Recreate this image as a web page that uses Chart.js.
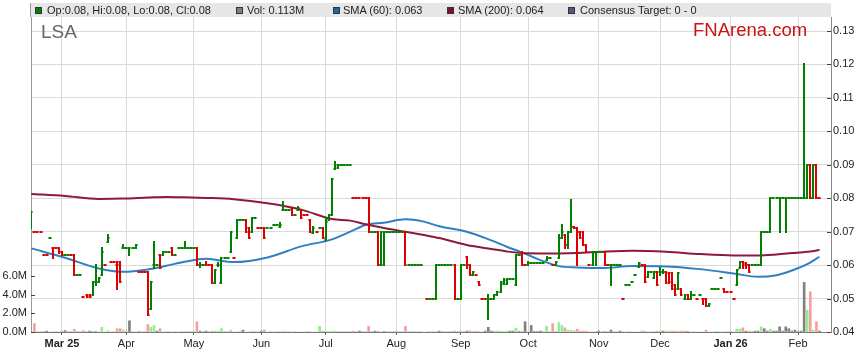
<!DOCTYPE html>
<html><head><meta charset="utf-8">
<script src="https://cdn.jsdelivr.net/npm/chart.js@4.4.0/dist/chart.umd.min.js"></script>
<style>
body{margin:0;background:#fff;}
#wrap{position:relative;width:859px;height:363px;overflow:hidden;font-family:"Liberation Sans",Arial,sans-serif;}
#c{position:absolute;left:0;top:0;}
.band{position:absolute;left:30px;top:3px;width:800px;height:14px;background:#e6e6e6;border-left:1px solid #999;}
.lg{position:absolute;top:3px;height:14px;line-height:14px;font-size:11px;color:#222;white-space:nowrap;}
.sq{position:absolute;top:7px;width:5px;height:5px;border:1px solid #333;}
.ttl{position:absolute;left:41px;top:22px;font-size:19px;line-height:19px;color:#666;}
.brand{position:absolute;left:693px;top:21px;font-size:18.5px;line-height:18.5px;color:#cc1111;}
</style></head>
<body>
<div id="wrap">
  <div class="band"></div>
  <canvas id="c" width="859" height="363"></canvas>
  <div class="sq" style="left:35px;background:#008000"></div><div class="lg" style="left:47px">Op:0.08, Hi:0.08, Lo:0.08, Cl:0.08</div>
  <div class="sq" style="left:236px;background:#808080"></div><div class="lg" style="left:247px">Vol: 0.113M</div>
  <div class="sq" style="left:333px;background:#1a6aa8"></div><div class="lg" style="left:343px">SMA (60): 0.063</div>
  <div class="sq" style="left:447px;background:#7b0f2e"></div><div class="lg" style="left:458px">SMA (200): 0.064</div>
  <div class="sq" style="left:568px;background:#55558a"></div><div class="lg" style="left:580px">Consensus Target: 0 - 0</div>
  <div class="ttl">LSA</div>
  <div class="brand">FNArena.com</div>
</div>
<script>
// ---- data (one entry per weekday, index 0 = 17 Feb 2025) ----
const monthIdx = [10,31,53,75,96,119,140,162,185,205,228,250];
const monthLabels = ['Mar 25','Apr','May','Jun','Jul','Aug','Sep','Oct','Nov','Dec','Jan 26','Feb'];
const boldLabels = ['Mar 25','Jan 26'];
const priceTicks = [0.04,0.05,0.06,0.07,0.08,0.09,0.10,0.11,0.12,0.13];
const volTicksM = [0,2,4,6];

const opens = [
.071,.07,.07,.07,.063,.063,.068,.065,.065,.065,
.064,.063,.063,.063,.063,.057,.057,.0505,.051,.051,
.051,.055,.055,.057,.06,.067,.061,.061,.06,.061,
.065,.065,.065,.065,.065,.058,.058,.058,.058,.047,
.06,.06,.063,.063,.064,.064,.065,.063,.065,.065,
.065,.065,.065,.065,.065,.06,.06,.06,.06,.06,
.0548,.06,.0548,.062,.062,.064,.062,.068,.0735,.0735,
.0735,.071,.07,.074,.071,.071,.071,.071,.071,.072,
.072,.0715,.0764,.0764,.0764,.077,.075,.0764,.0764,.075,
.075,.0735,.0695,.07,.071,.071,.0675,.0735,.075,.0888,
.089,.09,.09,.09,.09,.08,.08,.08,.08,.08,
.08,.07,.07,.07,.06,.06,.07,.07,.07,.07,
.07,.07,.07,.06,.06,.06,.06,.06,null,.05,
.05,.05,.05,.06,.06,.06,.06,.06,.06,.05,
.05,.06,.0623,.06,.057,.057,.055,.05,.05,.05,
.05,.05,.051,.052,.0545,.0545,.0557,.0557,.054,.063,
.063,.06,.06,.0605,.0605,.0605,.0605,.0605,.0615,.062,
.06,.06,.062,.068,.069,.066,.07,.0715,.071,.07,
.07,.066,.06,.06,.064,.064,.064,.064,.06,.06,
.06,.06,.06,.05,.054,.054,.055,.057,.0595,.06,
.06,.0565,.058,.056,.058,.058,.058,.058,.0575,.0575,
.054,.053,.053,.05,.051,.05,.051,.05,.051,.05,
.05,.0478,.053,.053,.053,.056,.053,.052,.052,.05,
.054,.059,.061,.0605,.06,.06,.06,.06,.06,.07,
.07,.07,.08,.08,.08,.08,.08,.08,.08,.08,
.08,.08,.08,.08,.09,.08,.09,.08];
const highs = [
.076,.07,.07,.07,.063,.063,.068,.065,.065,.065,
.064,.063,.063,.063,.063,.057,.057,.0505,.051,.051,
.055,.06,.056,.065,.06,.069,.061,.061,.061,.061,
.066,.065,.065,.065,.066,.058,.058,.058,.058,.055,
.067,.06,.063,.064,.064,.064,.065,.063,.065,.065,
.067,.065,.065,.065,.065,.0605,.06,.061,.06,.06,
.0586,.0605,.0621,.062,.062,.07,.062,.0735,.0735,.0735,
.0735,.071,.074,.074,.071,.071,.071,.071,.071,.072,
.072,.0725,.079,.0764,.0764,.077,.075,.0775,.0764,.075,
.075,.0735,.0715,.07,.071,.071,.074,.075,.0858,.0908,
.09,.09,.09,.09,.09,.08,.08,.08,.08,.08,
.08,.07,.07,.07,.07,.07,.07,.07,.07,.07,
.07,.07,.07,.06,.06,.06,.06,.06,null,.05,
.05,.05,.06,.06,.06,.06,.06,.06,.06,.05,
.06,.06,.0623,.06,.058,.057,.055,.05,.05,.051,
.05,.051,.052,.055,.0557,.0557,.0557,.0557,.063,.063,
.064,.06,.061,.0605,.0605,.0605,.0605,.0605,.0625,.062,
.06,.061,.069,.072,.069,.07,.0795,.0715,.071,.07,
.07,.066,.06,.064,.064,.064,.064,.064,.06,.06,
.06,.06,.06,.05,.054,.054,.055,.057,.0607,.06,
.06,.058,.058,.058,.058,.059,.0585,.058,.0575,.0575,
.054,.0576,.053,.051,.051,.052,.051,.05,.051,.05,
.05,.0485,.053,.053,.053,.056,.053,.052,.052,.05,
.0585,.061,.061,.0605,.06,.06,.06,.06,.07,.07,
.07,.08,.08,.08,.08,.08,.08,.08,.08,.08,
.08,.08,.12,.09,.09,.09,.09,.08];
const lows = [
.071,.07,.07,.07,.063,.063,.068,.062,.065,.0635,
.063,.063,.063,.063,.057,.057,.057,.0505,.0505,.0505,
.051,.054,.055,.057,.06,.067,.061,.061,.053,.055,
.065,.065,.063,.065,.065,.058,.058,.058,.045,.047,
.059,.06,.059,.063,.064,.064,.063,.063,.065,.065,
.065,.065,.065,.065,.06,.0595,.06,.06,.06,.0548,
.0548,.0598,.0548,.062,.062,.064,.062,.068,.0735,.0735,
.07,.068,.07,.074,.071,.071,.068,.071,.071,.072,
.072,.0715,.0764,.0764,.0764,.075,.075,.0764,.074,.075,
.075,.07,.0695,.07,.071,.068,.0675,.0735,.075,.0888,
.089,.09,.09,.09,.09,.08,.08,.08,.08,.08,
.07,.07,.07,.06,.06,.06,.07,.07,.07,.07,
.07,.07,.06,.06,.06,.06,.06,.06,null,.05,
.05,.05,.05,.06,.06,.06,.06,.06,.05,.05,
.05,.06,.0592,.057,.057,.057,.054,.05,.05,.0438,
.05,.05,.051,.052,.0545,.0545,.0557,.0557,.054,.063,
.06,.06,.06,.0605,.0605,.0605,.0605,.0605,.0615,.062,
.06,.06,.062,.068,.065,.065,.07,.071,.06,.068,
.066,.064,.06,.06,.06,.064,.064,.06,.06,.054,
.06,.06,.06,.05,.054,.054,.055,.057,.0595,.06,
.055,.0565,.058,.056,.054,.057,.0575,.0546,.0546,.053,
.051,.053,.051,.05,.05,.05,.051,.05,.051,.0485,
.0478,.0478,.053,.053,.053,.056,.052,.052,.052,.05,
.054,.059,.059,.059,.058,.06,.06,.06,.06,.07,
.07,.07,.08,.08,.07,.08,.07,.08,.08,.08,
.08,.08,.08,.08,.08,.08,.08,.08];
const closes = [
.076,.07,.07,.07,.063,.063,.068,.065,.065,.064,
.063,.063,.063,.063,.057,.057,.057,.0505,.0505,.0505,
.055,.055,.056,.064,.06,.068,.061,.061,.06,.055,
.065,.065,.065,.065,.066,.058,.058,.058,.045,.055,
.06,.06,.059,.064,.064,.064,.063,.063,.065,.065,
.065,.065,.065,.065,.06,.06,.06,.06,.06,.0548,
.0586,.06,.062,.062,.062,.07,.062,.0735,.0735,.0735,
.07,.068,.074,.074,.071,.071,.068,.071,.071,.072,
.072,.072,.0764,.0764,.0764,.075,.075,.077,.074,.075,
.075,.07,.071,.07,.071,.068,.073,.075,.0858,.09,
.09,.09,.09,.09,.09,.08,.08,.08,.08,.08,
.07,.07,.07,.06,.07,.07,.07,.07,.07,.07,
.07,.07,.06,.06,.06,.06,.06,.06,null,.05,
.05,.05,.06,.06,.06,.06,.06,.06,.05,.05,
.06,.06,.06,.057,.058,.057,.054,.05,.05,.05,
.05,.051,.052,.055,.0555,.0557,.0557,.0557,.063,.063,
.06,.06,.0605,.0605,.0605,.0605,.0605,.0605,.062,.062,
.06,.061,.068,.07,.066,.07,.0715,.071,.07,.068,
.066,.064,.06,.064,.064,.064,.064,.06,.06,.06,
.06,.06,.06,.05,.054,.054,.055,.057,.0607,.06,
.055,.058,.058,.058,.054,.058,.058,.0546,.055,.053,
.051,.0576,.051,.05,.05,.051,.051,.05,.051,.05,
.0478,.0485,.053,.053,.053,.056,.052,.052,.052,.05,
.0585,.061,.06,.06,.058,.06,.06,.06,.07,.07,
.07,.08,.08,.08,.08,.08,.08,.08,.08,.08,
.08,.08,.08,.09,.08,.09,.08,.08];
// bar direction as drawn (u = up / green, d = down / red)
const barDir = (
'uddddduddd'+'duudduuddd'+'uuuududddd'+'uuuuuddddu'+'uuduuuduuu'+
'uuuuduuddd'+'uuuuuuduuu'+'dduuddduuu'+'uuuuuduudd'+'ddududuuuu'+
'uuuuuddddd'+'duuduuuuuu'+'uuduuuuuud'+'uuuuuuuudu'+'uudduddddu'+
'uuuuuuuuuu'+'dduuuuuuuu'+'duuuduuddd'+'ddduuuuddu'+'uuuduuuuud'+
'duuuduuddd'+'dududuudud'+'duuuuudddd'+'uuddduuuuu'+'uuuuuuuuuu'+
'uuuududd').split('');
// volume in millions
const volumes = [
0,0.9,0,0,0.05,0.1,0,0,0,0,
0.1,0.15,0,0,0.3,0,0,0.15,0,0.1,
0.1,0.05,0,0.5,0,0.15,0,0,0.35,0.35,
0.2,0,1.2,0,0,0.1,0,0,0.8,0.5,
0.7,0.1,0.35,0,0,0,0,0,0,0,
0,0,0,0,1.1,0.1,0,0.1,0,0.1,
0.1,0.1,0.36,0,0,0.2,0,0,0,0.2,
0,0,0.1,0,0,0.1,0.2,0,0,0,
0,0,0.1,0,0,0,0,0,0,0,
0,0,0,0,0.6,0.1,0.1,0.05,0.1,0.1,
0,0,0,0,0,0.1,0,0.1,0,0,
0.6,0,0.1,0.1,0,0.05,0,0,0,0,
0,0,0.6,0,0,0,0,0,null,0,
0,0,0.05,0.1,0,0,0,0,0.1,0,
0.1,0,0.1,0.15,0.1,0.1,0.05,0,0.1,0.5,
0.1,0.1,0.1,0.1,0.05,0.1,0.1,0.1,0.4,0.05,
0.1,1.1,0.05,0.7,0.05,0.05,0.1,0,0.6,0,
0.9,0.1,1.0,0.7,0.45,0.2,0.2,0.1,0.3,0.1,
0.1,0.1,0,0,0,0.1,0,0.1,0,0.2,
0,0,0.1,0,0,0,0,0,0,0.1,
0.1,0,0,0,0.1,0.1,0.1,0.1,0.1,0.1,
0.1,0.1,0.1,0.1,0.05,0,0,0,0,0,
0.2,0,0,0,0,0,0,0,0,0,
0.3,0.3,0.45,0.1,0.1,0.1,0.1,0.1,0.55,0.35,
0.1,0.3,0.1,0.1,0.55,0.1,0.55,0.35,0.1,0.2,
0.05,0.1,5.3,2.35,4.3,0.2,1.1,0.113];
// moving averages read at sample days
const smaDays = [0,11,22,30,38,44,50,57,66,77,88,98,104,109,115,122,128,133,142,150,155,160,166,172,178,186,196,207,218,229,237,243,248,253,257];
const sma60 = [.065,.0622,.059,.058,.0587,.0598,.061,.0619,.0609,.0623,.0656,.0677,.070,.072,.0727,.0737,.073,.0716,.070,.0674,.0655,.0638,.0615,.0597,.0593,.0591,.0597,.0596,.0588,.0575,.0565,.057,.0584,.0603,.0625];
const sma200 = [.0813,.0807,.0798,.0799,.0802,.0804,.0803,.0801,.0797,.0785,.0766,.0738,.0733,.0722,.0711,.070,.069,.0681,.066,.0648,.0641,.0636,.0635,.0635,.0636,.064,.0643,.064,.0633,.0629,.0629,.0632,.0636,.064,.0645];

// ---- build ----
const FONT = '"Liberation Sans", Arial, sans-serif';
Chart.defaults.font.family = FONT;
const UP = '#008000', DOWN = '#dd0000';
const volPts = [], volCols = [];
volumes.forEach((v, i) => {
  if (v == null || closes[i] == null) return;
  volPts.push({x: i, y: v * 1e6});
  let prev = null;
  for (let k = i - 1; k >= 0; k--) { if (closes[k] != null) { prev = closes[k]; break; } }
  let col = '#808080';
  if (prev != null && closes[i] > prev) col = '#90ee90';
  else if (prev != null && closes[i] < prev) col = '#f5a0a0';
  volCols.push(col);
});
const s60 = smaDays.map((d, k) => ({x: d, y: sma60[k]}));
const s200 = smaDays.map((d, k) => ({x: d, y: sma200[k]}));

const ohlcPlugin = {
  id: 'ohlc',
  afterDatasetsDraw(chart) {
    const {ctx, chartArea: a, scales: {x, y}} = chart;
    ctx.save();
    ctx.beginPath(); ctx.rect(a.left, a.top, a.right - a.left, a.bottom - a.top); ctx.clip();
    const half = (x.getPixelForValue(1) - x.getPixelForValue(0)) / 2;
    ctx.lineWidth = 2; ctx.lineCap = 'butt';
    for (let i = 0; i < closes.length; i++) {
      if (closes[i] == null) continue;
      const px = Math.round(x.getPixelForValue(i));
      const yo = Math.round(y.getPixelForValue(opens[i]));
      const yh = Math.round(y.getPixelForValue(highs[i]));
      const yl = Math.round(y.getPixelForValue(lows[i]));
      const yc = Math.round(y.getPixelForValue(closes[i]));
      ctx.strokeStyle = barDir[i] === 'd' ? DOWN : UP;
      ctx.beginPath();
      if (yl - yh > 0) { ctx.moveTo(px, yh - 1); ctx.lineTo(px, yl + 1); }
      ctx.moveTo(px - half, yo); ctx.lineTo(px + 1, yo);
      ctx.moveTo(px - 1, yc); ctx.lineTo(px + half, yc);
      ctx.stroke();
    }
    ctx.restore();
  },
  afterDraw(chart) {
    const {ctx, chartArea: a, scales: {y, yVol}} = chart;
    ctx.save();
    ctx.strokeStyle = '#444'; ctx.lineWidth = 1;
    ctx.beginPath();
    priceTicks.forEach(v => { const py = Math.round(y.getPixelForValue(v)) + 0.5; ctx.moveTo(a.right - 4, py); ctx.lineTo(a.right, py); });
    volTicksM.forEach(v => { const py = Math.round(yVol.getPixelForValue(v * 1e6)) + 0.5; ctx.moveTo(a.left, py); ctx.lineTo(a.left + 4, py); });
    ctx.stroke();
    ctx.restore();
  }
};

new Chart(document.getElementById('c'), {
  type: 'bar',
  data: { datasets: [
    { type: 'line', label: 'SMA (200)', data: s200, xAxisID: 'x', yAxisID: 'y', borderColor: '#8b1a3c', borderWidth: 2, pointRadius: 0, cubicInterpolationMode: 'monotone', order: 1 },
    { type: 'line', label: 'SMA (60)', data: s60, xAxisID: 'x', yAxisID: 'y', borderColor: '#2f80c2', borderWidth: 2, pointRadius: 0, cubicInterpolationMode: 'monotone', order: 2 },
    { type: 'bar', label: 'Vol', data: volPts, xAxisID: 'x', yAxisID: 'yVol', backgroundColor: volCols, barThickness: 2, grouped: false, order: 3 }
  ]},
  options: {
    responsive: false, animation: false, devicePixelRatio: 1,
    layout: { padding: { top: 17, left: 0, right: 0, bottom: 0 } },
    plugins: { legend: { display: false }, tooltip: { enabled: false } },
    scales: {
      x: {
        type: 'linear', position: 'bottom', min: -0.1, max: 260.75, offset: false,
        afterBuildTicks: s => { s.ticks = monthIdx.map(v => ({value: v})); },
        afterFit: s => { s.height = 31; },
        grid: { color: '#dadada', lineWidth: 1, drawTicks: true, tickLength: 3, tickColor: '#666', offset: false },
        border: { color: '#777', width: 1 },
        ticks: {
          autoSkip: false, maxRotation: 0, padding: 2, color: '#222',
          font: c => ({ family: FONT, size: 11, weight: (c.tick && boldLabels.includes(monthLabels[monthIdx.indexOf(c.tick.value)])) ? 'bold' : 'normal' }),
          callback: v => { const k = monthIdx.indexOf(v); return k >= 0 ? monthLabels[k] : ''; }
        }
      },
      y: {
        type: 'linear', position: 'right', min: 0.04, max: 0.13419,
        afterBuildTicks: s => { s.ticks = priceTicks.map(v => ({value: v})); },
        afterFit: s => { s.width = 28; },
        grid: { color: '#dadada', drawTicks: false },
        border: { color: '#888' },
        ticks: { padding: 2, color: '#222', font: { family: FONT, size: 11 }, callback: v => Number(v).toFixed(2) }
      },
      yVol: {
        type: 'linear', position: 'left', min: 0, max: 33.7e6,
        afterBuildTicks: s => { s.ticks = volTicksM.map(v => ({value: v * 1e6})); },
        afterFit: s => { s.width = 31; },
        grid: { drawOnChartArea: false, drawTicks: false },
        border: { color: '#999' },
        ticks: { padding: 4, color: '#222', font: { family: FONT, size: 11 }, callback: v => (v / 1e6).toFixed(1) + 'M' }
      }
    }
  },
  plugins: [ohlcPlugin]
});
</script>
</body></html>
